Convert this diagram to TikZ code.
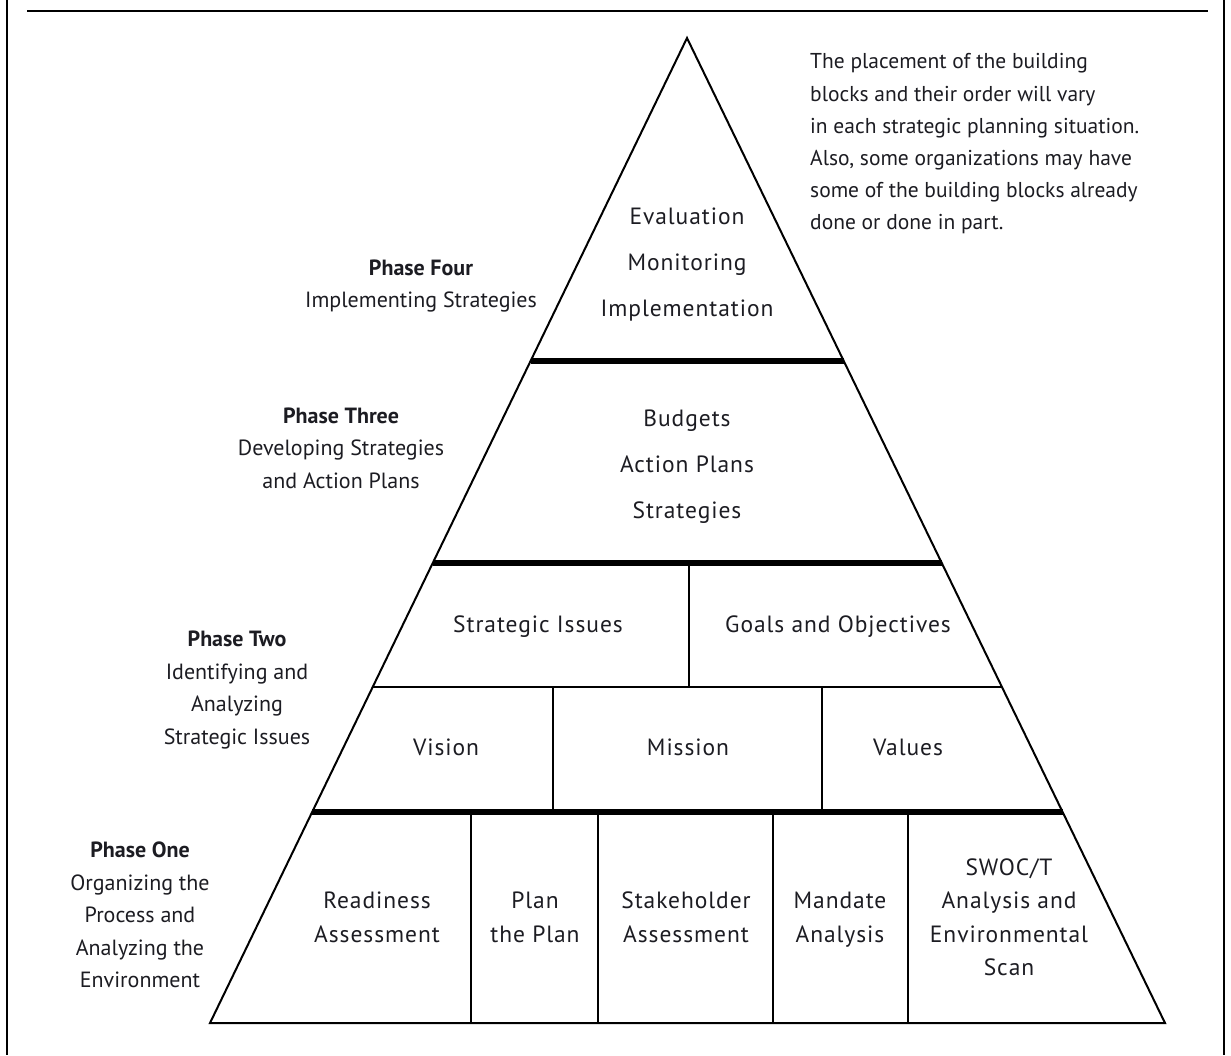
\documentclass[tikz,border=0pt]{standalone}
\usepackage{fontspec}
\setmainfont{PT Sans}
\usetikzlibrary{calc}
\definecolor{ink}{HTML}{1C1C22}
\begin{document}
\begin{tikzpicture}[x=1pt,y=-1pt,
  edge/.style={draw=black,line width=2pt,line join=miter},
  band/.style={draw=black,line width=6pt},
  thin/.style={draw=black,line width=1.6pt},
  blk/.style={font=\fontsize{23.5}{46}\selectfont\addfontfeatures{LetterSpace=4},text=ink,align=center,inner sep=0pt},
  cell/.style={font=\fontsize{23.5}{33.5}\selectfont\addfontfeatures{LetterSpace=4},text=ink,align=center,inner sep=0pt},
  phase/.style={font=\fontsize{22}{32.5}\selectfont,text=ink,align=center,inner sep=0pt},
  note/.style={font=\fontsize{21.5}{32.2}\selectfont,text=ink,align=left,anchor=west,inner sep=0pt}]
\useasboundingbox (0,0) rectangle (1231,1055);
% frame
\draw[line width=2pt] (7,0) -- (7,1055);
\draw[line width=2pt] (1224,0) -- (1224,1055);
\draw[line width=2.5pt] (27,11) -- (1208,11);
% pyramid
\coordinate (A) at (687,38);
\coordinate (L) at (210,1023);
\coordinate (R) at (1165,1023);
\draw[edge] (A) -- (L) -- (R) -- cycle;
\draw[band] ($(A)!0.3279!(L)$) -- ($(A)!0.3279!(R)$);
\draw[band] ($(A)!0.5330!(L)$) -- ($(A)!0.5330!(R)$);
\draw[thin] ($(A)!0.6589!(L)$) -- ($(A)!0.6589!(R)$);
\draw[band] ($(A)!0.7858!(L)$) -- ($(A)!0.7858!(R)$);
% dividers
\draw[thin] (689,563) -- (689,687);
\draw[thin] (553,687) -- (553,812);
\draw[thin] (822,687) -- (822,812);
\draw[thin] (471,812) -- (471,1023);
\draw[thin] (598,812) -- (598,1023);
\draw[thin] (773,812) -- (773,1023);
\draw[thin] (908,812) -- (908,1023);
% pyramid texts
\node[blk] (p4) at (687,261) {\strut Evaluation\\Monitoring\\Implementation\strut};
\node[blk] (p3) at (687,463) {\strut Budgets\\Action Plans\\Strategies\strut};
\node[cell] (si) at (538,626) {\strut Strategic Issues};
\node[cell] (go) at (838,626) {\strut Goals and Objectives};
\node[cell] (vi) at (446,749) {\strut Vision};
\node[cell] (mi) at (688,749) {\strut Mission};
\node[cell] (va) at (908,749) {\strut Values};
\node[cell] (ra) at (377,919) {\strut Readiness\\Assessment\strut};
\node[cell] (pp) at (535,919) {\strut Plan\\the Plan\strut};
\node[cell] (sa) at (686,919) {\strut Stakeholder\\Assessment\strut};
\node[cell] (ma) at (840,919) {\strut Mandate\\Analysis\strut};
\node[cell] (sw) at (1009,919) {\strut SWOC/T\\Analysis and\\Environmental\\Scan\strut};
% phase labels
\node[phase] (f4) at (421,285) {\strut\textbf{Phase Four}\\Implementing Strategies\strut};
\node[phase] (f3) at (341,449) {\strut\textbf{Phase Three}\\Developing Strategies\\and Action Plans\strut};
\node[phase] (f2) at (237,689) {\strut\textbf{Phase Two}\\Identifying and\\Analyzing\\Strategic Issues\strut};
\node[phase] (f1) at (140,916) {\strut\textbf{Phase One}\\Organizing the\\Process and\\Analyzing the\\Environment\strut};
% note
\node[note] (nt) at (810,143) {\strut The placement of the building\\blocks and their order will vary\\in each strategic planning situation.\\Also, some organizations may have\\some of the building blocks already\\done or done in part.\strut};
\end{tikzpicture}
\end{document}
